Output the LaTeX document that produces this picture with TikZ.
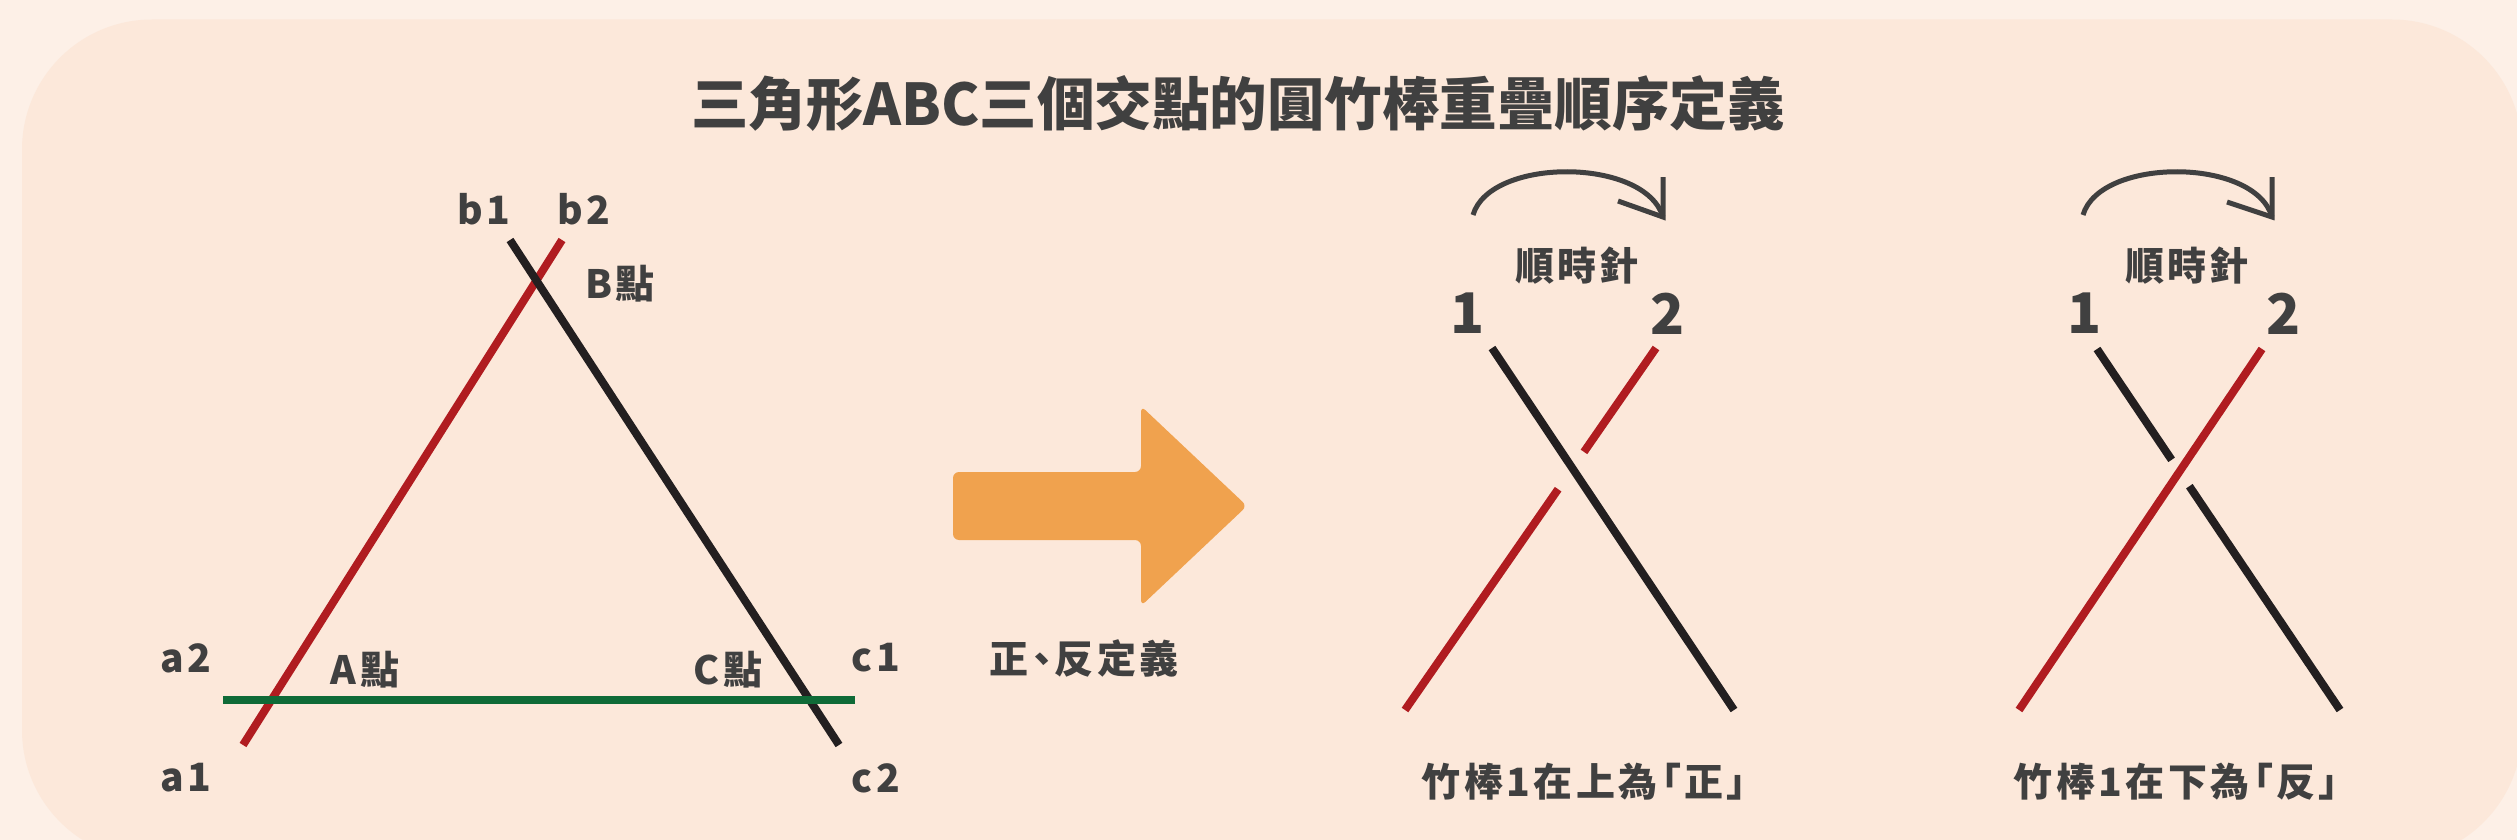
\documentclass[tikz,border=0pt]{standalone}
\usepackage{fontspec}
\setmainfont{Noto Sans CJK TC}
\newfontfamily\lblfont{Noto Sans CJK TC}[LetterSpace=9,RawFeature=+palt]
\newfontfamily\ttlfont{Noto Sans CJK TC}
\usetikzlibrary{calc}
\definecolor{outerbg}{RGB}{253,240,231}
\definecolor{innerbg}{RGB}{252,232,218}
\definecolor{txt}{RGB}{64,64,64}
\definecolor{stickred}{RGB}{176,28,32}
\definecolor{stickblack}{RGB}{35,31,32}
\definecolor{stickgreen}{RGB}{15,106,55}
\definecolor{arroworange}{RGB}{240,162,78}
\begin{document}
\begin{tikzpicture}[x=1pt,y=-1pt,
  lbl/.style={font=\lblfont\fontsize{39}{39}\selectfont\bfseries, text=txt, inner sep=0pt},
  num/.style={font=\fontsize{56}{56}\selectfont\bfseries, text=txt, inner sep=0pt},
  ttl/.style={font=\ttlfont\fontsize{57.5}{57.5}\selectfont\bfseries, text=txt, inner sep=0pt},
  redstick/.style={draw=stickred, line width=8pt},
  blackstick/.style={draw=stickblack, line width=8pt},
  greenstick/.style={draw=stickgreen, line width=8pt},
  cwarc/.style={draw=txt, line width=5pt},
  cwhead/.style={draw=txt, line width=5pt, line join=miter}
]
\useasboundingbox (0,0) rectangle (2517,840);
\fill[outerbg] (0,0) rectangle (2517,840);
\fill[innerbg, rounded corners=130pt] (22,19.5) rectangle (2522,860);

% title
\node[ttl] (title) at (1238,104) {三角形ABC三個交點的圓竹棒重疊順序定義};

% left triangle
\coordinate (r1) at (562,240); \coordinate (r2) at (243,745);
\coordinate (k1) at (510,240); \coordinate (k2) at (839,745);
\coordinate (g1) at (223,700); \coordinate (g2) at (855,700);
\draw[redstick] (r1) -- (r2);
\draw[blackstick] (k1) -- (k2);
\draw[greenstick] (g1) -- (g2);

\node[lbl] (lb1) at (484,209) {b1};
\node[lbl] (lb2) at (584,209) {b2};
\node[lbl] (lB) at (620,284) {B點};
\node[lbl] (la2) at (186,658) {a2};
\node[lbl] (lA) at (365,670) {A點};
\node[lbl] (lC) at (728,670) {C點};
\node[lbl] (lc1) at (876,658) {c1};
\node[lbl] (la1) at (186,778) {a1};
\node[lbl] (lc2) at (876,778) {c2};

% big arrow
\fill[arroworange, rounded corners=6pt] (953,472) -- (1141,472) -- (1141,406) -- (1247,506) -- (1141,606) -- (1141,540) -- (953,540) -- cycle;
\node[lbl] (def) at (1084,658) {正、反定義};

% diagram 1
\coordinate (p1a) at (1492,348); \coordinate (p1b) at (1734,710);
\coordinate (q1a) at (1656,348); \coordinate (q1b) at (1405,710);
\draw[redstick] (q1a) -- ($(q1a)!0.287!(q1b)$);
\draw[redstick] ($(q1a)!0.39!(q1b)$) -- (q1b);
\draw[blackstick] (p1a) -- (p1b);
\draw[cwarc] (1473,215) .. controls (1490,157) and (1645,157) .. (1663,217);
\draw[cwhead] (1618,201) -- (1663,217) -- (1663,177);
\node[lbl] (cw1) at (1577,266) {順時針};
\node[num] (n11) at (1468,313.5) {1};
\node[num] (n12) at (1668,313.5) {2};
\node[lbl] (cap1) at (1584,782) {竹棒1在上為「正」};

% diagram 2
\coordinate (p2a) at (2097,349); \coordinate (p2b) at (2340,710);
\coordinate (q2a) at (2262,349); \coordinate (q2b) at (2019,710);
\draw[blackstick] (p2a) -- ($(p2a)!0.307!(p2b)$);
\draw[blackstick] ($(p2a)!0.38!(p2b)$) -- (p2b);
\draw[redstick] (q2a) -- (q2b);
\draw[cwarc] (2083,215) .. controls (2100,157) and (2255,157) .. (2272,217);
\draw[cwhead] (2227,202) -- (2272,217) -- (2272,177);
\node[lbl] (cw2) at (2187,266) {順時針};
\node[num] (n21) at (2085,313.5) {1};
\node[num] (n22) at (2284,313.5) {2};
\node[lbl] (cap2) at (2176,782) {竹棒1在下為「反」};
\end{tikzpicture}
\end{document}
